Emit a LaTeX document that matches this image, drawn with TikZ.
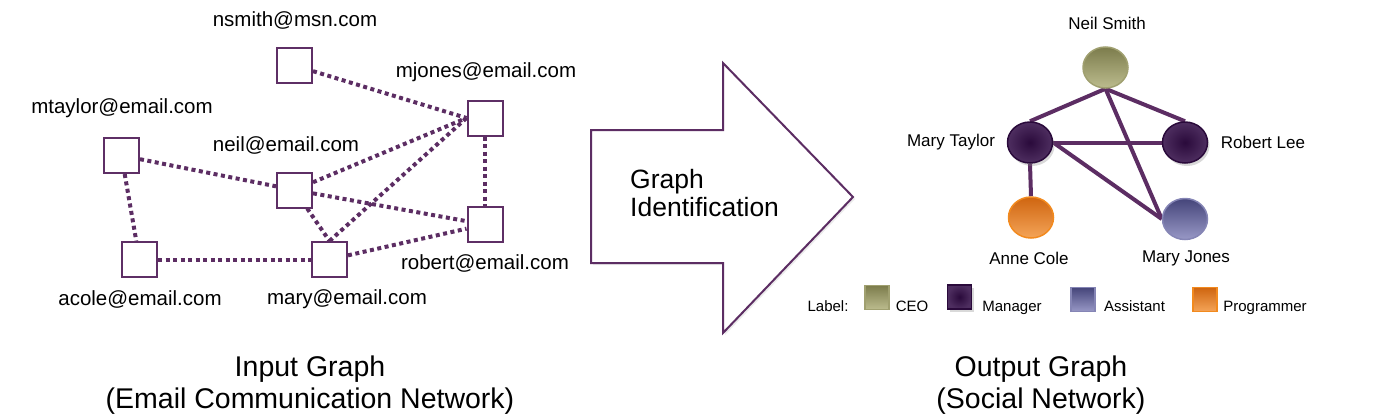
\documentclass[tikz,border=0pt]{standalone}
\usepackage{fontspec}
\setmainfont{Liberation Sans}
\usetikzlibrary{shapes.geometric,backgrounds,shadows}
\definecolor{edgepurple}{HTML}{5C2D63}
\definecolor{boxpurple}{HTML}{5E2F65}
\definecolor{ceotop}{HTML}{7C7C4C}
\definecolor{ceobot}{HTML}{BCBC8E}
\definecolor{ceoborder}{HTML}{A0A070}
\definecolor{mgrin}{HTML}{2A0A3B}
\definecolor{mgrout}{HTML}{4E2E60}
\definecolor{asstop}{HTML}{45457A}
\definecolor{assbot}{HTML}{9898C6}
\definecolor{assborder}{HTML}{8585B5}
\definecolor{protop}{HTML}{CF6510}
\definecolor{probot}{HTML}{F4A458}
\definecolor{proborder}{HTML}{F28A1E}
\newcommand{\fs}[1]{\fontsize{#1}{#1}\selectfont}
\tikzset{
  emailbox/.style={draw=boxpurple, line width=2pt, fill=white, minimum width=35pt, minimum height=35pt, inner sep=0pt},
  emaillabel/.style={font=\fs{20.5}, text=black, inner sep=0pt},
  dotedge/.style={draw=edgepurple, line width=4pt, dash pattern=on 4pt off 3.5pt},
  solidedge/.style={draw=edgepurple, line width=4pt},
  person/.style={ellipse, minimum width=45pt, minimum height=41pt, inner sep=0pt, line width=1.5pt},
  ceo/.style={top color=ceotop, bottom color=ceobot, draw=ceoborder},
  mgr/.style={inner color=mgrin, outer color=mgrout, draw=mgrin, drop shadow={opacity=0.3, shadow xshift=2pt, shadow yshift=-3pt}},
  ass/.style={top color=asstop, bottom color=assbot, draw=assborder},
  pro/.style={top color=protop, bottom color=probot, draw=proborder},
  namelabel/.style={font=\fs{17}, inner sep=0pt},
  legsq/.style={minimum width=24pt, minimum height=24pt, inner sep=0pt, line width=1.2pt},
  leglabel/.style={font=\fs{15}, inner sep=0pt, anchor=base},
  title/.style={font=\fs{28.5}, align=center, inner sep=0pt},
}
\begin{document}
\begin{tikzpicture}[x=1pt,y=-1pt]
\useasboundingbox (0,0) rectangle (1384,418);
% ---- input graph ----
\node[emailbox] (ns) at (294.5,65.5) {};
\node[emailbox] (mj) at (485,118) {};
\node[emailbox] (mt) at (121.5,155.5) {};
\node[emailbox] (ne) at (294.5,190) {};
\node[emailbox] (rb) at (485,224.5) {};
\node[emailbox] (ac) at (139.5,259.5) {};
\node[emailbox] (ma) at (329.5,259.5) {};
\begin{pgfonlayer}{background}
\draw[dotedge] (ns) -- (mj.west);
\draw[dotedge] (ne) -- (mj.west);
\draw[dotedge] (ma.north) -- (mj.west);
\draw[dotedge] (mj) -- (rb);
\draw[dotedge] (mt) -- (ne);
\draw[dotedge] (mt) -- (ac);
\draw[dotedge] (ne) -- (rb);
\draw[dotedge] (ne) -- (ma.north);
\draw[dotedge] (ac) -- (ma);
\draw[dotedge] (ma) -- (rb);
\end{pgfonlayer}
\node[emaillabel] (lns) at (295,20) {nsmith@msn.com};
\node[emaillabel] (lmj) at (486,72) {mjones@email.com};
\node[emaillabel] (lmt) at (122,108) {mtaylor@email.com};
\node[emaillabel] (lne) at (286,145) {neil@email.com};
\node[emaillabel] (lrb) at (485,263) {robert@email.com};
\node[emaillabel] (lac) at (140,299) {acole@email.com};
\node[emaillabel] (lma) at (347,299) {mary@email.com};
\node[title] (tin) at (310,385) {Input Graph\\[4pt](Email Communication Network)};
% ---- arrow ----
\draw[draw=edgepurple, line width=2pt, line join=miter, fill=white, drop shadow={opacity=0.15, shadow xshift=2pt, shadow yshift=-2pt}]
  (591,130) -- (723,130) -- (723,63) -- (853,197) -- (723,333) -- (723,263) -- (591,263) -- cycle;
\node[font=\fs{26.5}, align=left, inner sep=0pt, anchor=west] (gi) at (630,193) {Graph\\[2pt]Identification};
% ---- output graph ----
\node[person, ceo] (pns) at (1105.5,67.5) {};
\node[person, mgr] (pmt) at (1030,142.5) {};
\node[person, mgr] (prl) at (1185,142.5) {};
\node[person, pro] (pac) at (1031,217.5) {};
\node[person, ass] (pmj) at (1185,219) {};
\begin{pgfonlayer}{background}
\draw[solidedge] (pns.south) -- (pmt.north);
\draw[solidedge] (pns.south) -- (prl.north);
\draw[solidedge] (pns.south) -- (pmj.west);
\draw[solidedge] (pmt.east) -- (prl.west);
\draw[solidedge] (pmt.east) -- (pmj.west);
\draw[solidedge] (pmt.south) -- (pac.north);
\end{pgfonlayer}
\node[namelabel] (lpns) at (1107,23) {Neil Smith};
\node[namelabel] (lpmt) at (951,142) {Mary Taylor};
\node[namelabel] (lprl) at (1263,142) {Robert Lee};
\node[namelabel] (lpac) at (1029,258) {Anne Cole};
\node[namelabel] (lpmj) at (1186,258) {Mary Jones};
% ---- legend ----
\node[leglabel] (llab) at (828,311) {Label:};
\node[legsq, ceo] (sq1) at (877,297.5) {};
\node[leglabel] (l1) at (912,311) {CEO};
\node[legsq, mgr] (sq2) at (959.5,297) {};
\node[leglabel] (l2) at (1012,311) {Manager};
\node[legsq, ass] (sq3) at (1083,299.5) {};
\node[leglabel] (l3) at (1134.5,311) {Assistant};
\node[legsq, pro] (sq4) at (1205,299.5) {};
\node[leglabel] (l4) at (1265,311) {Programmer};
\node[title] (tout) at (1041,385) {Output Graph\\[4pt](Social Network)};
\end{tikzpicture}
\end{document}
